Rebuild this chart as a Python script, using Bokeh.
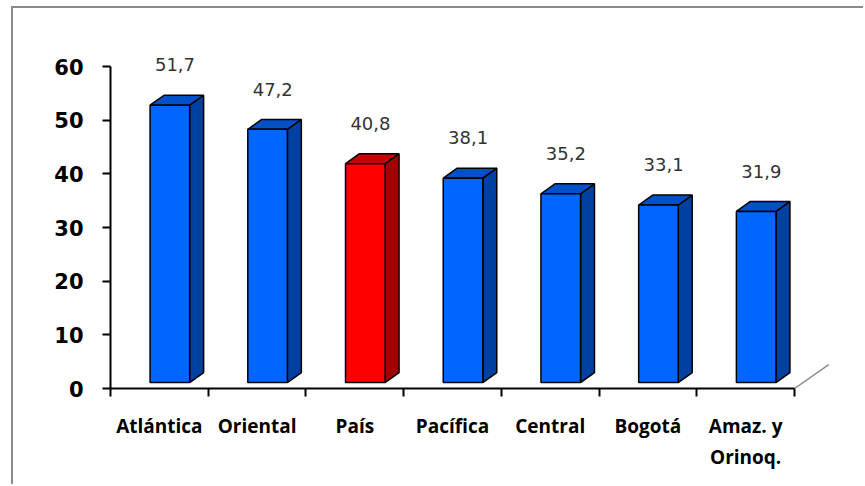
from bokeh.plotting import figure
from bokeh.models import FixedTicker, ColumnDataSource
from bokeh.core.properties import value
from bokeh.embed import file_html
from bokeh.resources import INLINE

# ---- data ----
categories = ["Atlántica", "Oriental", "País", "Pacífica", "Central", "Bogotá", "Amaz. y\nOrinoq."]
values = [51.7, 47.2, 40.8, 38.1, 35.2, 33.1, 31.9]
value_labels = ["51,7", "47,2", "40,8", "38,1", "35,2", "33,1", "31,9"]
highlight = "País"
y_ticks = [0, 10, 20, 30, 40, 50, 60]

# ---- styling / geometry constants ----
FRONT_OFF = 0.405   # front face left offset inside category slot (x units)
FRONT_W = 0.405     # front face width (x units)
DEPTH_X = 0.143     # 3D depth in x units
DEPTH_Y = 1.86      # 3D depth in y units
BASE = 1.1          # front face base above axis (y units)

colors = {
    "blue": ("#0066FF", "#0050C8", "#0040A0"),
    "red": ("#FF0000", "#C80000", "#A00000"),
}

# canvas is offset by CSS border/margin (left 11+2, top 6+2)
p = figure(width=852, height=478, output_backend="svg", toolbar_location=None,
           x_range=(0, 7.45), y_range=(0, 63),
           min_border_left=97, min_border_right=27, min_border_top=42, min_border_bottom=98)
p.styles = {"margin-left": "11px", "margin-top": "6px",
            "border-left": "2px solid #8a8a8a", "border-top": "2px solid #8a8a8a"}
p.outline_line_color = None
p.xgrid.grid_line_color = None
p.ygrid.grid_line_color = None
p.background_fill_color = "white"
p.border_fill_color = "white"

fx0, fx1, fy0, fy1 = [], [], [], []
tops_x, tops_y, sides_x, sides_y = [], [], [], []
front_c, top_c, side_c = [], [], []
for i, (c, v) in enumerate(zip(categories, values)):
    xl = i + FRONT_OFF
    xr = xl + FRONT_W
    b = BASE
    t = BASE + v
    fx0.append(xl); fx1.append(xr); fy0.append(b); fy1.append(t)
    tops_x.append([xl, xl + DEPTH_X, xr + DEPTH_X, xr])
    tops_y.append([t, t + DEPTH_Y, t + DEPTH_Y, t])
    sides_x.append([xr, xr + DEPTH_X, xr + DEPTH_X, xr])
    sides_y.append([b, b + DEPTH_Y, t + DEPTH_Y, t])
    key = "red" if c == highlight else "blue"
    front_c.append(colors[key][0]); top_c.append(colors[key][1]); side_c.append(colors[key][2])

p.patches(xs=sides_x, ys=sides_y, fill_color=side_c, line_color="black", line_width=1.5)
p.patches(xs=tops_x, ys=tops_y, fill_color=top_c, line_color="black", line_width=1.5)
p.quad(left=fx0, right=fx1, bottom=fy0, top=fy1, fill_color=front_c, line_color="black", line_width=1.5)

# value labels
lab = ColumnDataSource(dict(x=[i + 0.66 for i in range(len(values))],
                            y=[v + BASE + 7.5 for v in values], t=value_labels))
p.text(x="x", y="y", text="t", source=lab, text_font=value("DejaVu Sans"), text_font_size="18px",
       text_color="#333333", text_align="center", text_baseline="middle")

# floor diagonal at right end
p.line(x=[7, 7 + 0.35], y=[0, 4.47], line_color="#8c8c8c", line_width=1.5)

# y axis
ya = p.yaxis[0]
ya.ticker = FixedTicker(ticks=y_ticks)
ya.bounds = (0, 60)
ya.axis_line_width = 2
ya.axis_line_color = "black"
ya.major_tick_line_width = 2
ya.major_tick_out = 8
ya.major_tick_in = 0
ya.minor_tick_line_color = None
ya.major_label_text_font = "DejaVu Sans"
ya.major_label_text_font_style = "bold"
ya.major_label_text_font_size = "21px"
ya.major_label_text_color = "black"
ya.major_label_standoff = 19

# x axis
xa = p.xaxis[0]
centers = [i + 0.5 for i in range(len(categories))]
xa.ticker = FixedTicker(ticks=centers, minor_ticks=list(range(len(categories) + 1)))
xa.major_label_overrides = {c: name for c, name in zip(centers, categories)}
xa.bounds = (0, 7)
xa.axis_line_width = 2
xa.axis_line_color = "black"
xa.major_tick_line_color = None
xa.major_tick_out = 0
xa.major_tick_in = 0
xa.minor_tick_line_color = "black"
xa.minor_tick_line_width = 2
xa.minor_tick_out = 8
xa.minor_tick_in = 0
xa.major_label_text_font = "Open Sans"
xa.major_label_text_font_style = "bold"
xa.major_label_text_font_size = "19px"
xa.major_label_text_color = "black"
xa.major_label_standoff = 16

open("out.html", "w").write(file_html(p, INLINE))
